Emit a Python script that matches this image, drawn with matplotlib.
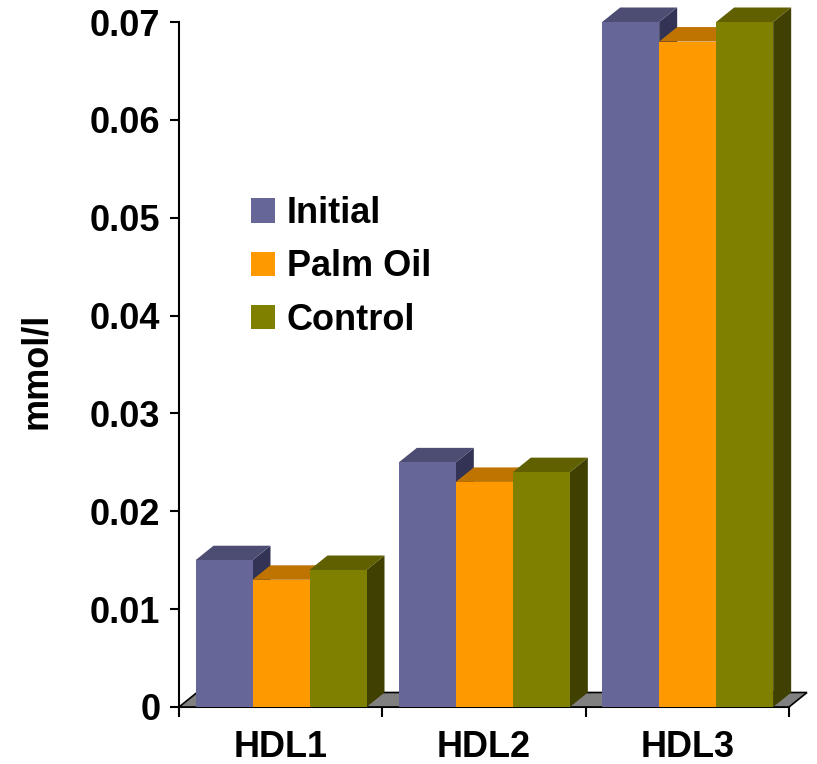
import matplotlib
matplotlib.use("Agg")
import matplotlib.pyplot as plt
from matplotlib.patches import Polygon, Patch

plt.rcParams['font.family'] = ['Liberation Sans', 'DejaVu Sans']
plt.rcParams['font.weight'] = 'bold'

categories = ["HDL1", "HDL2", "HDL3"]
series_names = ["Initial", "Palm Oil", "Control"]
initial = [0.015, 0.025, 0.070]
palm_oil = [0.013, 0.023, 0.068]
control = [0.014, 0.024, 0.070]
y_ticks = [0, 0.01, 0.02, 0.03, 0.04, 0.05, 0.06, 0.07]
y_tick_labels = ["0", "0.01", "0.02", "0.03", "0.04", "0.05", "0.06", "0.07"]

front_colors = ["#666699", "#FF9900", "#808000"]
top_colors = ["#4D4D73", "#BF7300", "#606000"]
side_colors = ["#333355", "#7F4C00", "#404000"]

FS = 26

W, H = 817, 764
fig = plt.figure(figsize=(W / 100, H / 100), dpi=100)
ax = fig.add_axes([179 / W, (H - 707) / H, 610 / W, 685 / H])
ax.set_xlim(0, 3)
ax.set_ylim(0, 0.07)

# depth of the pseudo-3D extrusion, in data units (about 18 px right, 14.5 px up)
ax_w_px, ax_h_px = 610, 685
dx = 18 * 3 / ax_w_px
dy = 14.5 * 0.07 / ax_h_px

# floor
floor = Polygon([(0, 0), (3, 0), (3 + dx, dy), (dx, dy)], closed=True,
                facecolor="#808080", edgecolor="black", linewidth=1.2,
                zorder=1, clip_on=False)
ax.add_patch(floor)

offset = 16.5 / (ax_w_px / 3)
bw = 57 / (ax_w_px / 3)
series = [initial, palm_oil, control]

z = 2
for i in range(len(categories)):
    for j, vals in enumerate(series):
        v = vals[i]
        x0 = i + offset + j * bw
        x1 = x0 + bw
        side = Polygon([(x1, 0), (x1 + dx, dy), (x1 + dx, v + dy), (x1, v)],
                       closed=True, facecolor=side_colors[j], edgecolor="none",
                       zorder=z, clip_on=False)
        top = Polygon([(x0, v), (x1, v), (x1 + dx, v + dy), (x0 + dx, v + dy)],
                      closed=True, facecolor=top_colors[j], edgecolor="none",
                      zorder=z + 0.1, clip_on=False)
        ax.add_patch(side)
        ax.add_patch(top)
        ax.bar(x0, v, width=bw, align="edge", color=front_colors[j],
               linewidth=0, zorder=z + 0.2, clip_on=False)
        z += 1

# axes styling
for s in ["top", "right"]:
    ax.spines[s].set_visible(False)
ax.spines["left"].set_linewidth(1.5)
ax.spines["bottom"].set_linewidth(1.5)
ax.spines["bottom"].set_zorder(0.5)

ax.set_yticks(y_ticks)
ax.set_yticklabels(y_tick_labels, fontsize=FS, fontweight="bold")
ax.tick_params(axis="y", length=6.5, width=1.5, pad=7)

ax.set_xticks([0.5, 1.5, 2.5])
ax.set_xticklabels(categories, fontsize=FS, fontweight="bold")
ax.set_xticks([0, 1, 2, 3], minor=True)
ax.tick_params(axis="x", which="major", length=0, pad=16.5)
ax.tick_params(axis="x", which="minor", length=7, width=1.5, direction="out")

ax.set_ylabel("mmol/l", fontsize=FS, fontweight="bold")
ax.yaxis.set_label_coords(-0.205, 0.49)

handles = [Patch(facecolor=c, edgecolor="none") for c in front_colors]
ax.legend(handles, series_names, loc="upper left",
          bbox_to_anchor=(251 / W, 1 - 196 / H), bbox_transform=fig.transFigure,
          frameon=False, prop={"weight": "bold", "size": FS},
          handlelength=0.665, handleheight=0.665, handletextpad=0.33,
          labelspacing=0.51, borderpad=0, borderaxespad=0)

fig.patch.set_facecolor("white")
ax.set_facecolor("none")
fig.savefig("out.png", dpi=100)
